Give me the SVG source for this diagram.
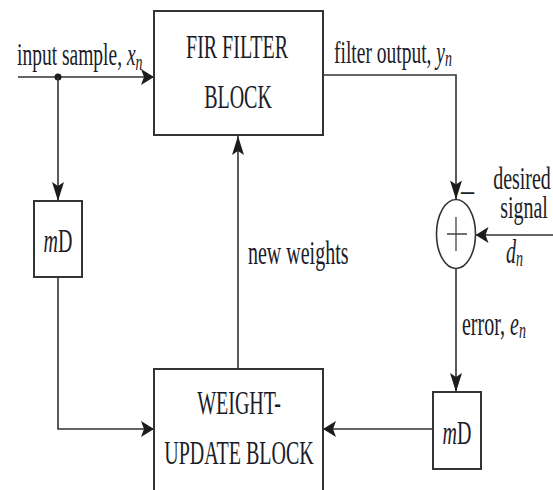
<svg xmlns="http://www.w3.org/2000/svg" width="553" height="490" viewBox="0 0 553 490">
<style>
.box{fill:#fff;stroke:#333;stroke-width:2}
.ln{fill:none;stroke:#333;stroke-width:1.6}
.t{font-family:"Liberation Serif","Times New Roman",serif;font-size:20px;fill:#1c1c28}
.m{text-anchor:middle}
.i{font-style:italic}
.sub{font-style:italic;font-size:14px}
</style>
<defs>
<marker id="ah" markerUnits="userSpaceOnUse" markerWidth="13" markerHeight="16" refX="13" refY="8" orient="auto">
<path d="M0,0 L13,8 L0,16 L3,8 z" fill="#1c1c1c"/>
</marker>
<marker id="av" markerUnits="userSpaceOnUse" markerWidth="19" markerHeight="12" refX="19" refY="6" orient="auto">
<path d="M0,0 L19,6 L0,12 L4,6 z" fill="#1c1c1c"/>
</marker>
</defs>

<g id="connectors">
<path class="ln" d="M18,77 H154" marker-end="url(#ah)"/>
<circle cx="58" cy="77" r="3.5" fill="#1c1c1c"/>
<path class="ln" d="M58,77 V201" marker-end="url(#av)"/>
<path class="ln" d="M58,277 V429 H154" marker-end="url(#ah)"/>
<path class="ln" d="M323,75 H456 V199.5" marker-end="url(#av)"/>
<path class="ln" d="M553,235 H475.5" marker-end="url(#ah)"/>
<path class="ln" d="M456,269 V392" marker-end="url(#av)"/>
<path class="ln" d="M433,429 H323" marker-end="url(#ah)"/>
<path class="ln" d="M238,369 V136" marker-end="url(#av)"/>
</g>

<g id="fir">
<rect class="box" x="154" y="11" width="169" height="124"/>
<text class="t m" transform="translate(237,58) scale(1,1.65)">FIR FILTER</text>
<text class="t m" transform="translate(238,108) scale(1,1.65)">BLOCK</text>
</g>

<g id="wu">
<rect class="box" x="154" y="369" width="169" height="140"/>
<text class="t m" transform="translate(239,414) scale(1,1.65)">WEIGHT-</text>
<text class="t m" transform="translate(239,464) scale(1,1.65)">UPDATE BLOCK</text>
</g>

<g id="delay1">
<rect class="box" x="34" y="201" width="48" height="76"/>
<text class="t m" transform="translate(58,252) scale(1,1.65)"><tspan class="i">m</tspan>D</text>
</g>

<g id="delay2">
<rect class="box" x="433" y="392" width="48" height="77"/>
<text class="t m" transform="translate(457,444) scale(1,1.65)"><tspan class="i">m</tspan>D</text>
</g>

<g id="sum">
<ellipse cx="456" cy="234" rx="19.5" ry="34.5" fill="#fff" stroke="#333" stroke-width="1.6"/>
<path d="M447,234 H467 M456,217 V251" stroke="#444" stroke-width="1.3" fill="none"/>
<text class="t" x="461" y="199" style="font-size:26px;font-weight:bold">–</text>
</g>

<g id="labels">
<text class="t" transform="translate(17,65) scale(1,1.65)" style="font-size:19.5px">input sample, <tspan class="i">x</tspan><tspan class="sub" dy="3">n</tspan></text>
<text class="t" transform="translate(334,63) scale(1,1.65)" style="font-size:19.5px">filter output, <tspan class="i">y</tspan><tspan class="sub" dy="2">n</tspan></text>
<text class="t" transform="translate(248,264) scale(1,1.65)">new weights</text>
<text class="t m" transform="translate(522,189) scale(1,1.55)">desired</text>
<text class="t m" transform="translate(524,218) scale(1,1.55)">signal</text>
<text class="t" transform="translate(506,263) scale(1,1.65)"><tspan class="i">d</tspan><tspan class="sub" dy="2">n</tspan></text>
<text class="t" transform="translate(462,335) scale(1,1.65)">error, <tspan class="i">e</tspan><tspan class="sub" dy="2">n</tspan></text>
</g>
</svg>
